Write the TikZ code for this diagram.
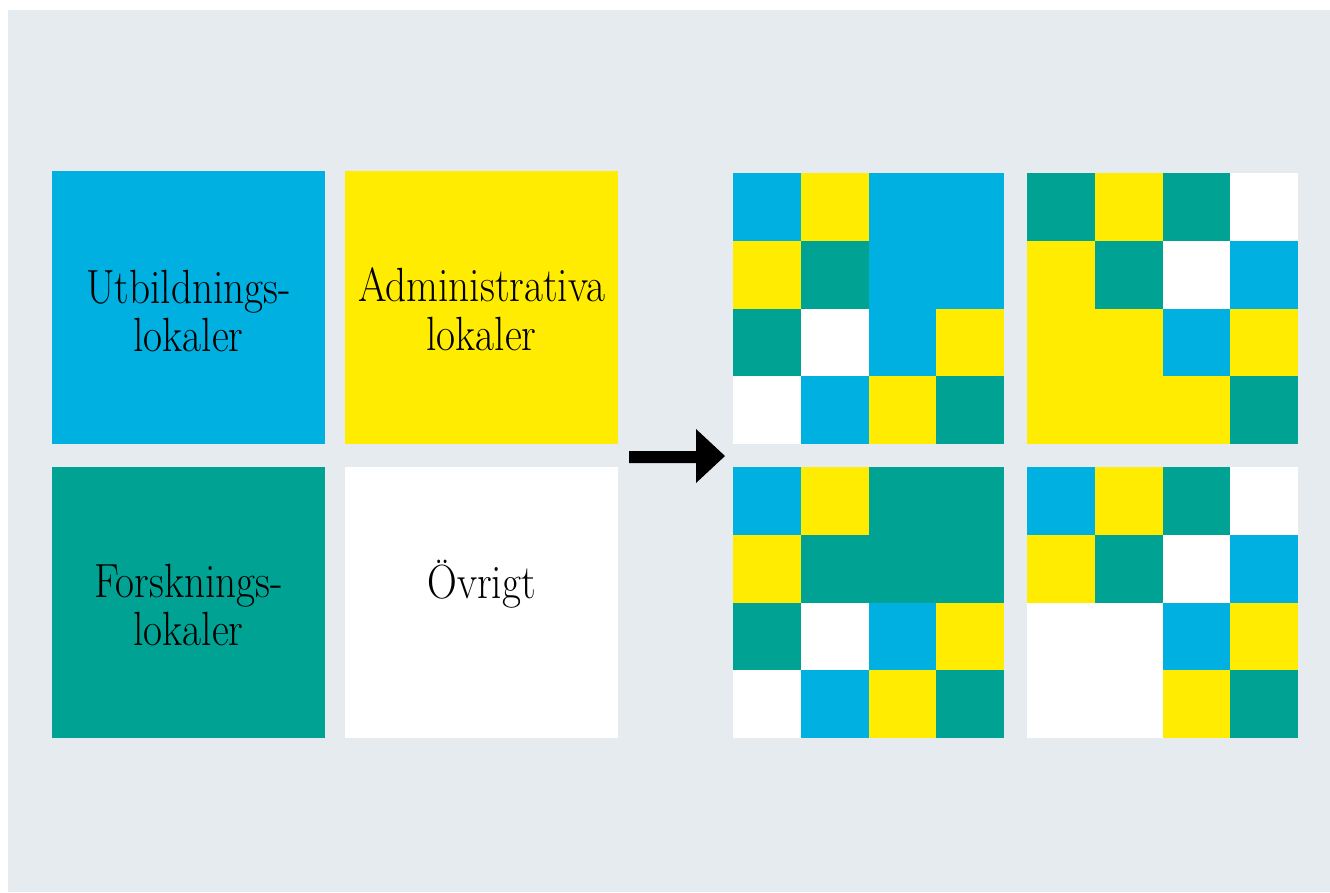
\documentclass[tikz,border=0pt]{standalone}
\usepackage{graphicx}
\definecolor{cB}{HTML}{00B0E0}
\definecolor{cY}{HTML}{FFEC00}
\definecolor{cG}{HTML}{00A294}
\definecolor{cW}{HTML}{FFFFFF}
\definecolor{bgc}{HTML}{E6EBEF}
\newcommand{\cond}[1]{\scalebox{0.86}[1]{#1}}
\newcommand{\cellgrid}[3]{%
  \foreach \k [count=\i from 0] in {#3} {%
    \pgfmathtruncatemacro\gcol{mod(\i,4)}%
    \pgfmathtruncatemacro\grow{div(\i,4)}%
    \fill[c\k] ({#1+\gcol*67.75},{#2+\grow*67.75}) rectangle ++(67.75,67.75);
  }%
}
\tikzset{
  lbl/.style={anchor=base, inner sep=0pt, text=black, font=\fontsize{48}{48}\selectfont},
  tile/.style={minimum width=273pt, minimum height=273pt, inner sep=0pt, draw=none, anchor=north west}
}
\begin{document}
\begin{tikzpicture}[x=1pt,y=-1pt]
\useasboundingbox (0,0) rectangle (1330,892);
\fill[white] (0,0) rectangle (1330,892);
\fill[bgc] (8,10) rectangle (1330,892);
% left tiles
\node[tile, fill=cB] (utb) at (52,171) {};
\node[tile, fill=cY] (adm) at (345,171) {};
\node[tile, fill=cG, minimum height=271pt] (for) at (52,467) {};
\node[tile, fill=cW, minimum height=271pt] (ovr) at (345,467) {};
% labels
\node[lbl] (u1) at (188.5,303) {\cond{Utbildnings-}};
\node[lbl] (u2) at (188.5,351) {\cond{lokaler}};
\node[lbl] (a1) at (481.5,301) {\cond{Administrativa}};
\node[lbl] (a2) at (481.5,350) {\cond{lokaler}};
\node[lbl] (f1) at (188.5,597) {\cond{Forsknings-}};
\node[lbl] (f2) at (188.5,645) {\cond{lokaler}};
\node[lbl] (o1) at (481.5,598) {\cond{Övrigt}};
% arrow
\coordinate (as) at (629,457);
\coordinate (at) at (725,456);
\fill[black] (629,451) -- (696,451) -- (696,429) -- (at) -- (696,483) -- (696,463) -- (629,463) -- cycle;
% grids
\cellgrid{733}{173}{B,Y,B,B, Y,G,B,B, G,W,B,Y, W,B,Y,G}
\cellgrid{1027}{173}{G,Y,G,W, Y,G,W,B, Y,Y,B,Y, Y,Y,Y,G}
\cellgrid{733}{467}{B,Y,G,G, Y,G,G,G, G,W,B,Y, W,B,Y,G}
\cellgrid{1027}{467}{B,Y,G,W, Y,G,W,B, W,W,B,Y, W,W,Y,G}
\end{tikzpicture}
\end{document}
